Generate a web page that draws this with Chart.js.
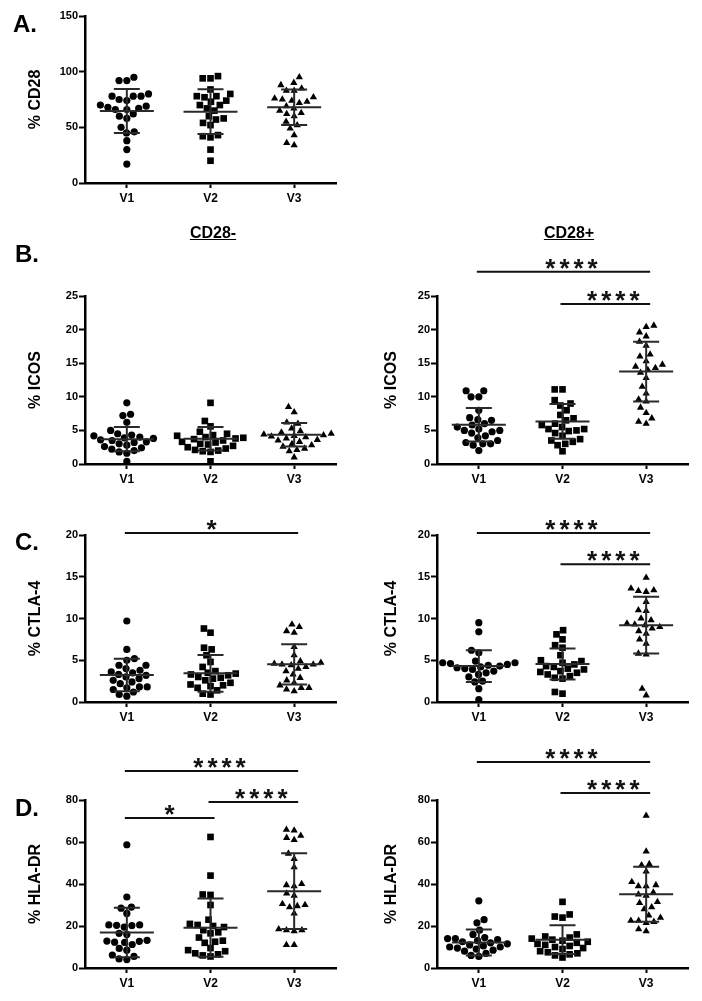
<!DOCTYPE html>
<html><head><meta charset="utf-8">
<script src="https://cdn.jsdelivr.net/npm/chart.js@4.4.1/dist/chart.umd.min.js"></script>
<style>
html,body{margin:0;padding:0;background:#fff;}
body{width:702px;height:1001px;position:relative;overflow:hidden;font-family:"Liberation Sans",Arial,sans-serif;}
canvas{position:absolute;}
.lbl{position:absolute;font-weight:bold;color:#000;white-space:nowrap;z-index:2;}
.letter{font-size:24px;line-height:28px;}
.head{font-size:16px;line-height:18px;text-decoration:underline;transform:translateX(-50%);}
</style></head><body>
<div class="lbl letter" style="left:13px;top:10px">A.</div>
<div class="lbl letter" style="left:15px;top:240px">B.</div>
<div class="lbl letter" style="left:15px;top:528px">C.</div>
<div class="lbl letter" style="left:15px;top:794px">D.</div>
<div class="lbl head" style="left:213px;top:224px">CD28-</div>
<div class="lbl head" style="left:569px;top:224px">CD28+</div>
<script>
// ---------------- DATA ----------------
const categories = ['V1', 'V2', 'V3'];

// A. % CD28
const cd28_V1 = [95, 92, 92, 80, 78, 78, 78, 75, 74, 70, 69, 68, 67, 66, 66, 62, 60, 58, 50, 46, 45, 38, 30, 17];
const cd28_V2 = [96, 94, 94, 84, 80, 78, 78, 77, 74, 73, 70, 70, 67, 65, 60, 58, 57, 54, 52, 43, 42, 41, 30, 20];
const cd28_V3 = [95, 90, 88, 85, 83, 83, 77, 76, 75, 74, 73, 72, 69, 67, 65, 63, 62, 60, 55, 52, 49, 43, 36, 34];
const cd28_mean = [64.7, 64.1, 68.0];
const cd28_sd = [19.7, 20.1, 16.0];

// B. % ICOS, CD28-
const icosNeg_V1 = [9.1, 7.4, 7.2, 6.2, 5.0, 4.5, 4.3, 4.2, 4.0, 3.9, 3.8, 3.6, 3.5, 3.3, 3.2, 3.0, 2.8, 2.6, 2.4, 2.2, 2.0, 1.8, 1.6, 0.4];
const icosNeg_V2 = [9.1, 6.4, 5.6, 4.8, 4.5, 4.3, 4.2, 4.0, 3.9, 3.8, 3.7, 3.5, 3.3, 3.2, 3.0, 2.9, 2.7, 2.5, 2.3, 2.1, 2.0, 1.9, 1.8, 0.4];
const icosNeg_V3 = [8.5, 7.7, 6.2, 6.0, 5.3, 4.9, 4.7, 4.5, 4.4, 4.3, 4.2, 4.1, 4.0, 3.8, 3.6, 3.5, 3.3, 3.0, 2.8, 2.6, 2.3, 2.1, 1.9, 1.0];
const icosNeg_mean = [3.7, 3.75, 4.35];
const icosNeg_sd = [1.8, 1.75, 1.75];

// B. % ICOS, CD28+
const icosPos_V1 = [10.9, 10.9, 10.0, 10.0, 8.0, 6.9, 6.6, 6.5, 6.0, 5.8, 5.5, 5.2, 5.0, 5.0, 4.8, 4.6, 4.2, 3.9, 3.5, 3.2, 3.0, 3.0, 2.8, 2.0];
const icosPos_V2 = [11.1, 11.1, 9.5, 9.0, 8.7, 8.0, 7.3, 6.8, 6.5, 6.0, 5.8, 5.5, 5.2, 5.2, 5.0, 4.9, 4.6, 4.2, 3.7, 3.5, 3.3, 3.0, 2.8, 1.9];
const icosPos_V3 = [20.6, 20.4, 19.6, 19.0, 18.2, 17.6, 16.3, 16.0, 15.3, 14.8, 14.5, 14.3, 14.0, 13.6, 12.8, 11.5, 10.5, 9.6, 9.3, 8.4, 7.6, 6.8, 6.3, 6.0];
const icosPos_mean = [5.84, 6.34, 13.76];
const icosPos_sd = [2.5, 2.6, 4.45];
const icosPos_sig = [['V1', 'V3', '****'], ['V2', 'V3', '****']];

// C. % CTLA-4, CD28-
const ctlaNeg_V1 = [9.7, 6.3, 5.2, 5.0, 4.4, 4.4, 4.0, 3.8, 3.6, 3.5, 3.3, 3.2, 3.0, 2.8, 2.6, 2.4, 2.2, 1.8, 1.8, 1.7, 1.5, 1.2, 0.9, 0.7];
const ctlaNeg_V2 = [8.8, 8.3, 6.5, 6.3, 5.6, 4.8, 4.2, 3.7, 3.5, 3.4, 3.3, 3.2, 3.0, 2.9, 2.8, 2.6, 2.3, 2.1, 2.0, 1.9, 1.7, 1.4, 1.0, 0.9];
const ctlaNeg_V3 = [9.3, 9.0, 8.5, 8.3, 6.6, 5.6, 4.9, 4.7, 4.6, 4.5, 4.5, 4.4, 4.2, 4.0, 3.7, 3.3, 2.9, 2.6, 2.3, 2.0, 1.7, 1.7, 1.5, 1.3];
const ctlaNeg_mean = [3.23, 3.43, 4.51];
const ctlaNeg_sd = [1.95, 2.2, 2.4];
const ctlaNeg_sig = [['V1', 'V3', '*']];

// C. % CTLA-4, CD28+
const ctlaPos_V1 = [9.5, 8.4, 6.2, 5.9, 4.9, 4.7, 4.7, 4.6, 4.5, 4.4, 4.3, 4.2, 4.1, 4.0, 3.9, 3.7, 3.5, 3.3, 3.0, 2.5, 2.4, 1.6, 0.3];
const ctlaPos_V2 = [8.6, 8.1, 7.5, 6.8, 6.5, 5.6, 5.0, 4.9, 4.7, 4.5, 4.3, 4.2, 4.0, 3.9, 3.7, 3.6, 3.5, 3.3, 3.1, 2.9, 2.8, 1.2, 1.0];
const ctlaPos_V3 = [14.9, 13.6, 13.4, 13.3, 13.2, 12.0, 11.0, 10.9, 10.0, 9.8, 9.4, 9.3, 9.2, 9.0, 8.8, 8.5, 8.2, 7.5, 7.0, 5.8, 5.7, 1.6, 0.8];
const ctlaPos_mean = [4.3, 4.55, 9.2];
const ctlaPos_sd = [1.9, 1.85, 3.4];
const ctlaPos_sig = [['V1', 'V3', '****'], ['V2', 'V3', '****']];

// D. % HLA-DR, CD28-
const hlaNeg_V1 = [58.7, 33.8, 29.0, 28.5, 26.0, 20.5, 20.5, 20.3, 20.2, 19.5, 16.5, 16.0, 13.2, 12.8, 12.7, 12.3, 12.2, 11.2, 9.3, 8.5, 6.2, 5.5, 4.3, 4.0];
const hlaNeg_V2 = [62.4, 44.0, 35.0, 34.8, 30.0, 23.0, 21.0, 20.5, 20.0, 19.5, 18.0, 17.0, 16.5, 14.5, 13.0, 12.5, 12.0, 9.5, 8.5, 8.0, 7.0, 6.5, 6.0, 5.5];
const hlaNeg_V3 = [65.9, 65.5, 63.0, 62.0, 61.0, 54.5, 52.0, 48.0, 40.0, 39.5, 39.0, 35.5, 34.5, 30.5, 30.0, 29.5, 29.0, 26.0, 18.5, 18.0, 18.0, 17.5, 11.0, 11.0];
const hlaNeg_mean = [16.9, 19.2, 36.6];
const hlaNeg_sd = [11.8, 13.9, 18.0];
const hlaNeg_sig = [['V1', 'V3', '****'], ['V2', 'V3', '****'], ['V1', 'V2', '*']];

// D. % HLA-DR, CD28+
const hlaPos_V1 = [32.0, 23.0, 21.5, 18.0, 16.0, 14.5, 14.0, 14.0, 13.5, 13.0, 12.5, 12.0, 11.5, 11.0, 10.5, 10.0, 10.0, 9.5, 9.0, 8.5, 8.0, 7.0, 6.0, 5.5];
const hlaPos_V2 = [31.5, 25.5, 24.5, 24.0, 16.0, 15.0, 14.5, 14.0, 13.5, 13.0, 12.5, 12.0, 11.5, 11.0, 10.5, 10.0, 9.5, 9.0, 8.0, 7.5, 7.0, 6.5, 6.0, 5.0];
const hlaPos_V3 = [72.5, 55.5, 49.5, 49.0, 46.0, 41.0, 39.5, 39.0, 39.0, 36.0, 35.0, 34.5, 31.5, 31.0, 29.0, 28.0, 25.0, 24.0, 22.5, 22.5, 22.0, 21.5, 18.5, 17.5];
const hlaPos_mean = [12.1, 13.5, 35.1];
const hlaPos_sd = [6.2, 6.8, 13.1];
const hlaPos_sig = [['V1', 'V3', '****'], ['V2', 'V3', '****']];

// ---------------- LAYOUT / STYLE ----------------
Chart.defaults.font.family = '"Liberation Sans", Arial, sans-serif';
Chart.defaults.color = '#000';

const FONT = '"Liberation Sans", Arial, sans-serif';
const markerStyles = [
  {pointStyle: 'circle', pointRadius: 3.6},
  {pointStyle: 'rect', pointRadius: 4.7},
  {pointStyle: 'triangle', pointRadius: 4.2}
];

const errPlugin = {
  id: 'errbars',
  afterDatasetsDraw(chart, args, opts) {
    const {ctx, scales: {x, y}} = chart;
    ctx.save();
    ctx.strokeStyle = '#2a2a2a';
    ctx.lineWidth = 2;
    opts.means.forEach((m, i) => {
      const cx = x.getPixelForValue(i + 1);
      const ym = y.getPixelForValue(m);
      const yt = y.getPixelForValue(m + opts.sds[i]);
      const yb = y.getPixelForValue(m - opts.sds[i]);
      ctx.beginPath();
      ctx.moveTo(cx - 27, ym); ctx.lineTo(cx + 27, ym);
      ctx.moveTo(cx, yt); ctx.lineTo(cx, yb);
      ctx.moveTo(cx - 13, yt); ctx.lineTo(cx + 13, yt);
      ctx.moveTo(cx - 13, yb); ctx.lineTo(cx + 13, yb);
      ctx.stroke();
    });
    ctx.restore();
  }
};

const sigPlugin = {
  id: 'sig',
  afterDraw(chart, args, opts) {
    if (!opts.items || !opts.items.length) return;
    const {ctx, scales: {x, y}} = chart;
    ctx.save();
    ctx.strokeStyle = '#111';
    ctx.fillStyle = '#111';
    ctx.lineWidth = 2;
    ctx.font = 'bold 26px ' + FONT;
    ctx.textAlign = 'center';
    ctx.textBaseline = 'alphabetic';
    opts.items.forEach((it, k) => {
      const x1 = x.getPixelForValue(categories.indexOf(it[0]) + 1) - 2;
      const x2 = x.getPixelForValue(categories.indexOf(it[1]) + 1) + 4;
      const yy = y.getPixelForValue(opts.levels[k]);
      ctx.beginPath(); ctx.moveTo(x1, yy); ctx.lineTo(x2, yy); ctx.stroke();
      const multi = it[2].length > 1;
      ctx.letterSpacing = multi ? '4px' : '0px';
      const dx = multi ? 10 : 0;
      ctx.fillText(it[2], (x1 + x2) / 2 + dx, yy + 5);
    });
    ctx.restore();
  }
};

function beeswarm(py, d) {
  const order = py.map((p, i) => i).sort((a, b) => py[b] - py[a]);
  const placed = [];
  const out = new Array(py.length).fill(0);
  for (const i of order) {
    const yv = py[i];
    const cands = [0];
    for (const p of placed) {
      const dy = Math.abs(p.y - yv);
      if (dy < d) {
        const dx = Math.sqrt(d * d - dy * dy);
        cands.push(p.x + dx, p.x - dx);
      }
    }
    cands.sort((a, b) => Math.abs(a) - Math.abs(b) || a - b);
    let chosen = 0;
    for (const c of cands) {
      if (placed.every(p => (p.x - c) ** 2 + (p.y - yv) ** 2 >= d * d - 0.01)) { chosen = c; break; }
    }
    placed.push({x: chosen, y: yv});
    out[i] = chosen;
  }
  return out;
}

function makePanel(p) {
  const c = document.createElement('canvas');
  c.width = p.w; c.height = p.h;
  c.style.left = p.cx + 'px'; c.style.top = p.cy + 'px';
  c.style.width = p.w + 'px'; c.style.height = p.h + 'px';
  document.body.appendChild(c);
  const a = p.area;
  const yW = a.left - p.cx;
  const xH = p.cy + p.h - a.bottom;
  const datasets = p.groups.map((vals, i) => ({
    data: vals.map(v => ({x: i + 1, y: v})),
    pointStyle: markerStyles[i].pointStyle,
    pointRadius: markerStyles[i].pointRadius,
    pointBackgroundColor: '#000',
    pointBorderColor: '#000',
    pointBorderWidth: 0,
    showLine: false,
    clip: false
  }));
  const chart = new Chart(c, {
    type: 'scatter',
    data: {datasets},
    options: {
      responsive: false,
      animation: false,
      devicePixelRatio: 1,
      layout: {padding: {left: 0, bottom: 0, top: a.top - p.cy, right: p.cx + p.w - a.right}},
      plugins: {
        legend: {display: false},
        tooltip: {enabled: false},
        errbars: {means: p.means, sds: p.sds},
        sig: {items: p.sig || [], levels: p.sigLevels || []}
      },
      scales: {
        x: {
          type: 'linear', min: 0.5, max: 3.5,
          afterBuildTicks: s => { s.ticks = categories.map((cat, i) => ({value: i + 1})); },
          afterFit: s => { s.height = xH; },
          ticks: {callback: v => categories[v - 1], font: {size: 12, weight: 'bold'}, color: '#000', padding: 3, maxRotation: 0},
          grid: {drawOnChartArea: false, drawTicks: true, tickLength: 5, tickWidth: 2, color: '#000', tickColor: '#000'},
          border: {display: true, color: '#000', width: 2.5}
        },
        y: {
          type: 'linear', min: 0, max: p.ymax,
          afterFit: s => { s.width = yW; },
          ticks: {stepSize: p.step, font: {size: 11, weight: 'bold'}, color: '#000', padding: 1},
          grid: {drawOnChartArea: false, drawTicks: true, tickLength: 6, tickWidth: 2, color: '#000', tickColor: '#000'},
          border: {display: true, color: '#000', width: 2.5},
          title: {display: true, text: p.title, color: '#000', font: {size: 16, weight: 'bold', lineHeight: 1.2}, padding: {top: p.titleX - 9.6, bottom: 0}}
        }
      }
    },
    plugins: [errPlugin, sigPlugin]
  });
  const xs = chart.scales.x, ys = chart.scales.y;
  const pxPerX = xs.getPixelForValue(2) - xs.getPixelForValue(1);
  chart.data.datasets.forEach((ds, i) => {
    const vals = p.groups[i];
    const offs = beeswarm(vals.map(v => ys.getPixelForValue(v)), 7.8);
    ds.data = vals.map((v, k) => ({x: i + 1 + offs[k] / pxPerX, y: v}));
  });
  chart.update('none');
}

const L = {left: 85, right: 336};
const R = {left: 437, right: 688};

makePanel({cx: 0, cy: 0, w: 351, h: 215, area: {...L, top: 16, bottom: 183}, ymax: 150, step: 50,
  title: '% CD28', titleX: 36, groups: [cd28_V1, cd28_V2, cd28_V3], means: cd28_mean, sds: cd28_sd});

makePanel({cx: 0, cy: 240, w: 351, h: 252, area: {...L, top: 296, bottom: 464}, ymax: 25, step: 5,
  title: '% ICOS', titleX: 36, groups: [icosNeg_V1, icosNeg_V2, icosNeg_V3], means: icosNeg_mean, sds: icosNeg_sd});

makePanel({cx: 351, cy: 240, w: 351, h: 252, area: {...R, top: 296, bottom: 464}, ymax: 25, step: 5,
  title: '% ICOS', titleX: 41, groups: [icosPos_V1, icosPos_V2, icosPos_V3], means: icosPos_mean, sds: icosPos_sd,
  sig: icosPos_sig, sigLevels: [28.6, 23.8]});

makePanel({cx: 0, cy: 495, w: 351, h: 235, area: {...L, top: 535, bottom: 702}, ymax: 20, step: 5,
  title: '% CTLA-4', titleX: 36, groups: [ctlaNeg_V1, ctlaNeg_V2, ctlaNeg_V3], means: ctlaNeg_mean, sds: ctlaNeg_sd,
  sig: ctlaNeg_sig, sigLevels: [20.24]});

makePanel({cx: 351, cy: 495, w: 351, h: 235, area: {...R, top: 535, bottom: 702}, ymax: 20, step: 5,
  title: '% CTLA-4', titleX: 41, groups: [ctlaPos_V1, ctlaPos_V2, ctlaPos_V3], means: ctlaPos_mean, sds: ctlaPos_sd,
  sig: ctlaPos_sig, sigLevels: [20.24, 16.5]});

makePanel({cx: 0, cy: 735, w: 351, h: 266, area: {...L, top: 800, bottom: 968}, ymax: 80, step: 20,
  title: '% HLA-DR', titleX: 36, groups: [hlaNeg_V1, hlaNeg_V2, hlaNeg_V3], means: hlaNeg_mean, sds: hlaNeg_sd,
  sig: hlaNeg_sig, sigLevels: [93.8, 79.0, 71.4]});

makePanel({cx: 351, cy: 735, w: 351, h: 266, area: {...R, top: 800, bottom: 968}, ymax: 80, step: 20,
  title: '% HLA-DR', titleX: 41, groups: [hlaPos_V1, hlaPos_V2, hlaPos_V3], means: hlaPos_mean, sds: hlaPos_sd,
  sig: hlaPos_sig, sigLevels: [98.1, 83.3]});
</script>
</body></html>
